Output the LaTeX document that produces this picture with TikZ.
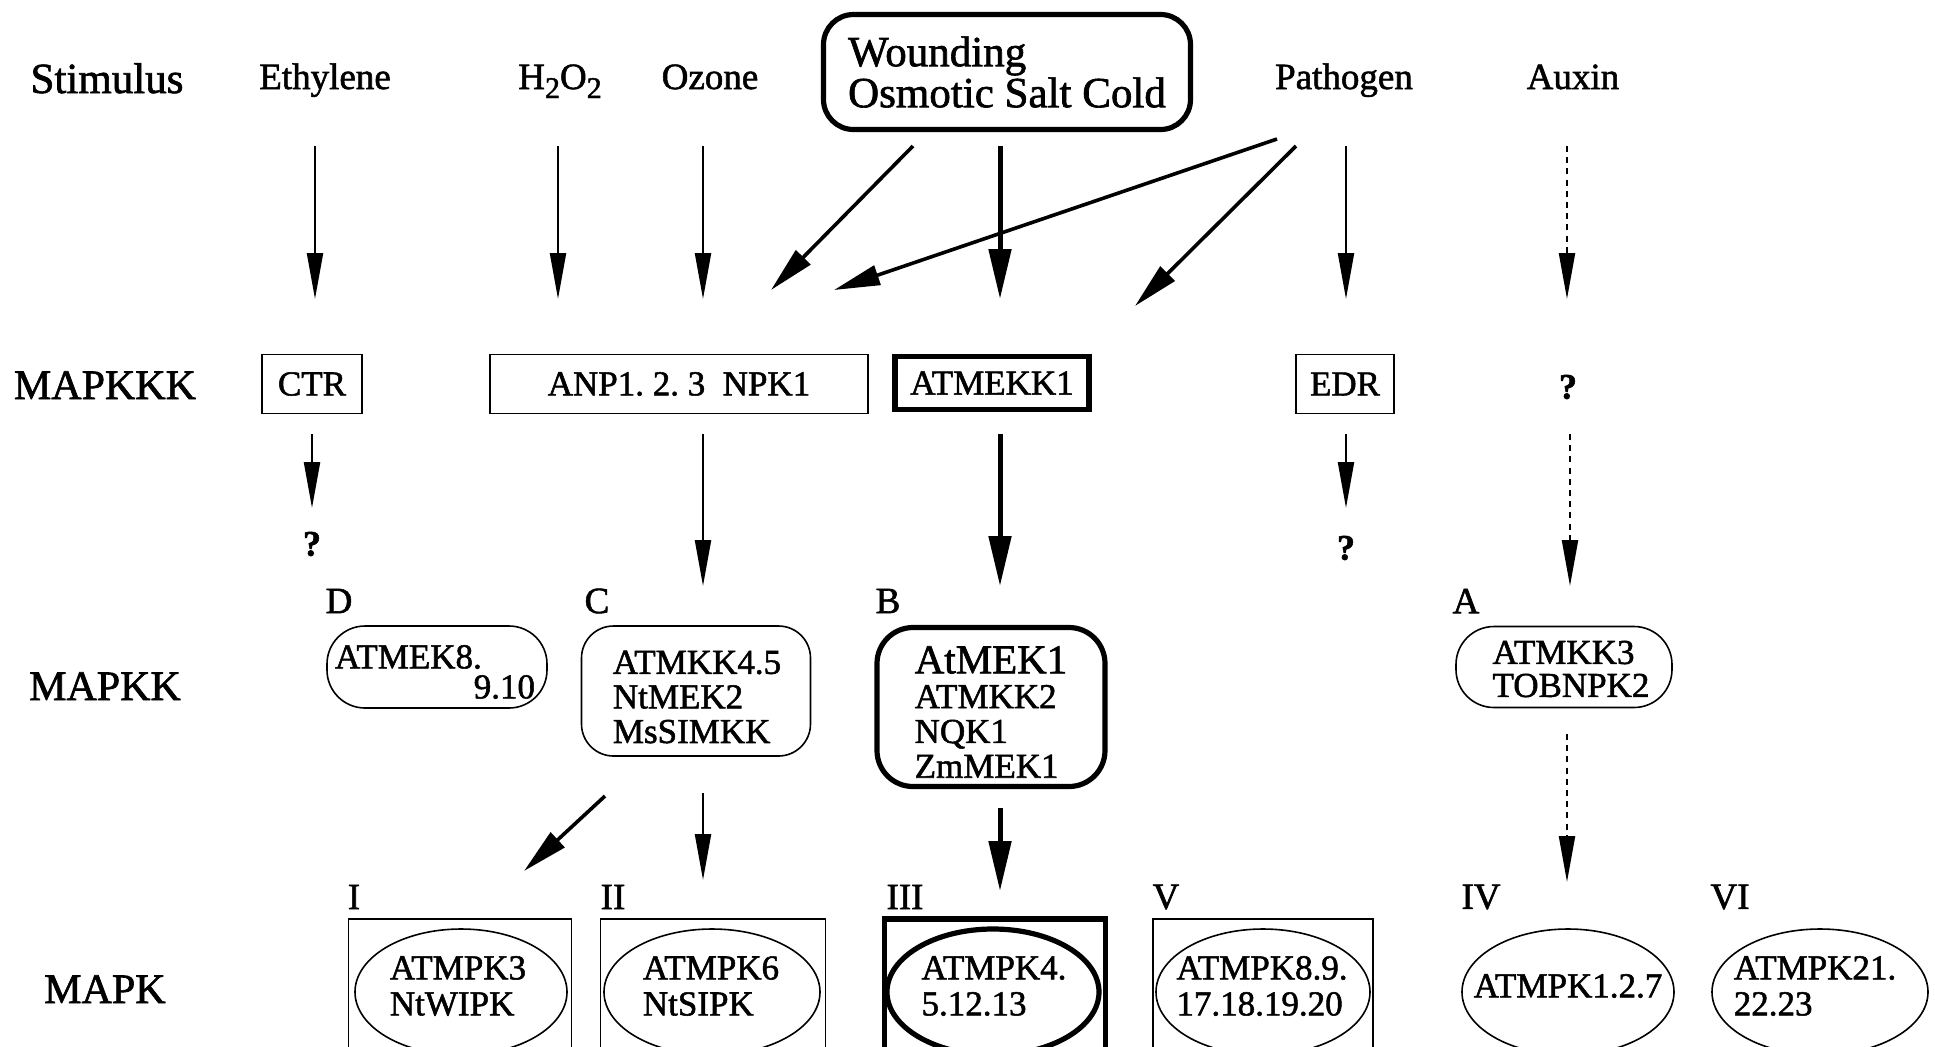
\documentclass[tikz,border=0pt]{standalone}
\usepackage{fontspec}
\setmainfont{Liberation Serif}[FakeBold=1.5]
\usetikzlibrary{arrows.meta,calc,shapes.geometric}
\newdimen\pxu \pxu=0.5pt
\begin{document}
\begin{tikzpicture}[x=0.5pt,y=-0.5pt,
  every node/.style={inner sep=0pt, outer sep=0pt},
  rowlab/.style={font=\fontsize{21}{22}\selectfont, anchor=base},
  stimlab/.style={font=\fontsize{18.5}{20}\selectfont, anchor=base},
  kkkbox/.style={draw, line width=0.8pt, font=\fontsize{17.5}{18}\selectfont, minimum height=59\pxu},
  qmark/.style={font=\bfseries\fontsize{18}{18}\selectfont},
  kkbox/.style={draw, line width=0.8pt, rounded corners=32\pxu},
  kktext/.style={align=left, font=\fontsize{17.5}{17.3}\selectfont},
  letter/.style={font=\fontsize{18.5}{20}\selectfont},
  kframe/.style={draw, line width=0.8pt, minimum height=142\pxu},
  kell/.style={draw, ellipse, line width=0.8pt, minimum width=212\pxu, minimum height=126\pxu},
  ktext/.style={align=left, font=\fontsize{17.5}{18}\selectfont},
  arr/.style={line width=1.1pt, -{Triangle[length=23pt,width=8pt]}},
  darr/.style={arr, dash pattern=on 3pt off 2.6pt},
  marr/.style={line width=1.8pt, -{Triangle[length=23pt,width=10pt]}},
  tarr/.style={line width=2.5pt, -{Triangle[length=25pt,width=11pt]}},
]
\useasboundingbox (0,0) rectangle (1935,1046);
\clip (0,0) rectangle (1935,1046);

% row labels
\node[rowlab, font=\fontsize{21.5}{22}\selectfont] (lStim) at (107,93) {Stimulus};
\node[rowlab] (lKKK) at (105,399) {MAPKKK};
\node[rowlab] (lKK) at (105,700) {MAPKK};
\node[rowlab] (lK) at (105,1003) {MAPK};

% stimuli
\node[stimlab] (eth) at (325,89) {Ethylene};
\node[stimlab] (hoo) at (560,89) {H\raisebox{-4.5pt}{\fontsize{15}{15}\selectfont 2}O\raisebox{-4.5pt}{\fontsize{15}{15}\selectfont 2}};
\node[stimlab] (ozo) at (710,89) {Ozone};
\node[draw, line width=2.6pt, rounded corners=30\pxu, minimum width=367\pxu, minimum height=115\pxu,
      align=left, font=\fontsize{21.5}{20.5}\selectfont] (wnd) at (1007,72) {Wounding\\Osmotic Salt Cold};
\node[stimlab] (pat) at (1344,89) {Pathogen};
\node[stimlab] (aux) at (1573,89) {Auxin};

% MAPKKK
\node[kkkbox, minimum width=100\pxu] (ctr) at (312,384) {CTR};
\node[kkkbox, minimum width=378\pxu] (anp) at (679,384) {ANP1.\ 2.\ 3\ \ NPK1};
\node[kkkbox, line width=2.8pt, minimum width=194\pxu, minimum height=53\pxu] (mekk) at (992,383) {ATMEKK1};
\node[kkkbox, minimum width=98\pxu] (edr) at (1345,384) {EDR};
\node[qmark] (q1) at (1568,387) {?};

% question marks below
\node[qmark] (q2) at (312,544) {?};
\node[qmark] (q3) at (1346,548) {?};

% MAPKK letters
\node[letter] (lD) at (339,601) {D};
\node[letter] (lC) at (597,601) {C};
\node[letter] (lB) at (888,601) {B};
\node[letter] (lA) at (1466,601) {A};

% MAPKK boxes
\node[kkbox, minimum width=220\pxu, minimum height=82\pxu, rounded corners=38\pxu] (D) at (437,667) {};
\node[kktext, font=\fontsize{17.5}{15}\selectfont] (Dt) at (435,672)
      {\makebox[200\pxu][l]{ATMEK8.}\\\makebox[200\pxu][r]{9.10}};
\node[kkbox, minimum width=229\pxu, minimum height=130\pxu] (C) at (696,691) {};
\node[kktext] (Ct) at (697,697) {ATMKK4.5\\NtMEK2\\MsSIMKK};
\node[kkbox, line width=2.6pt, minimum width=228\pxu, minimum height=159\pxu, rounded corners=36\pxu] (B) at (991,707) {};
\node[kktext, font=\fontsize{17.5}{17.4}\selectfont] (Bt) at (991,712)
      {{\fontsize{20.5}{18}\selectfont AtMEK1}\\ATMKK2\\NQK1\\ZmMEK1};
\node[kkbox, minimum width=216\pxu, minimum height=81\pxu, rounded corners=38\pxu] (A) at (1564,667) {};
\node[kktext, font=\fontsize{17.5}{16.5}\selectfont] (At) at (1571,669) {ATMKK3\\TOBNPK2};

% MAPK labels
\node[letter] (lI) at (354,897) {I};
\node[letter] (lII) at (613,897) {II};
\node[letter] (lIII) at (905,897) {III};
\node[letter] (lV) at (1166,897) {V};
\node[letter] (lIV) at (1481,897) {IV};
\node[letter] (lVI) at (1730,897) {VI};

% MAPK frames and ellipses
\node[kframe, minimum width=223\pxu] (bI) at (460,990) {};
\node[kframe, minimum width=225\pxu] (bII) at (713,990) {};
\node[kframe, line width=2.6pt, minimum width=221\pxu] (bIII) at (995,990) {};
\node[kframe, minimum width=220\pxu] (bV) at (1263,990) {};

\node[kell] (eI) at (461,992) {};
\node[kell, minimum width=216\pxu] (eII) at (712,992) {};
\node[kell, line width=2.6pt, minimum width=212\pxu] (eIII) at (993,992) {};
\node[kell, minimum width=214\pxu] (eV) at (1263,992) {};
\node[kell, minimum width=212\pxu] (eIV) at (1568,992) {};
\node[kell, minimum width=216\pxu] (eVI) at (1820,992) {};

\node[ktext] (tI) at (458,986) {ATMPK3\\NtWIPK};
\node[ktext] (tII) at (711,986) {ATMPK6\\NtSIPK};
\node[ktext] (tIII) at (994,986) {ATMPK4.\\5.12.13};
\node[ktext] (tV) at (1262,986) {ATMPK8.9.\\17.18.19.20};
\node[ktext] (tIV) at (1568,986) {ATMPK1.2.7};
\node[ktext] (tVI) at (1815,986) {ATMPK21.\\22.23};

% Stimulus -> MAPKKK
\draw[arr] ($(eth.base)+(-10,57)$) -- ($(ctr)+(3,-85)$);
\draw[arr] ($(hoo.base)+(-2,57)$) -- ($(anp)+(-121,-85)$);
\draw[arr] ($(ozo.base)+(-7,57)$) -- ($(anp)+(24,-85)$);
\draw[marr] ($(wnd)+(-94,74)$) -- ($(anp)+(92,-94)$);
\draw[tarr] ($(wnd)+(-7,74)$) -- ($(mekk)+(8,-84)$);
\draw[marr] ($(pat.base)+(-67,50)$) -- ($(anp)+(155,-94)$);
\draw[marr] ($(pat.base)+(-48,57)$) -- ($(mekk)+(143,-77)$);
\draw[arr] ($(pat.base)+(2,57)$) -- ($(edr)+(1,-85)$);
\draw[darr] ($(aux.base)+(-6,57)$) -- ($(q1)+(-1,-88)$);

% MAPKKK -> MAPKK
\draw[arr] ($(ctr)+(0,50)$) -- ($(q2)+(0,-36)$);
\draw[arr] ($(anp)+(24,50)$) -- ($(C)+(7,-105)$);
\draw[tarr] ($(mekk)+(8,51)$) -- ($(B)+(9,-121)$);
\draw[arr] ($(edr)+(1,50)$) -- ($(q3)+(0,-40)$);
\draw[darr] ($(q1)+(2,47)$) -- ($(A)+(6,-81)$);

% MAPKK -> MAPK
\draw[marr] ($(C)+(-91,105)$) -- ($(eI)+(63,-121)$);
\draw[arr] ($(C)+(7,102)$) -- ($(eII)+(-9,-112)$);
\draw[tarr] ($(B)+(9,101)$) -- ($(eIII)+(7,-101)$);
\draw[darr] ($(A)+(3,67)$) -- ($(eIV)+(-1,-110)$);
\end{tikzpicture}
\end{document}
